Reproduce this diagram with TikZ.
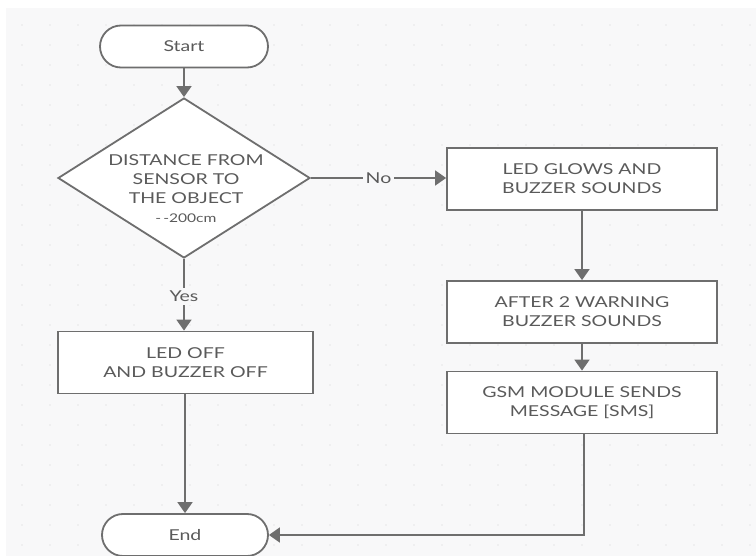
\documentclass[tikz,border=0pt]{standalone}
\usepackage{fontspec}
\setmainfont{Lato}[FakeStretch=1.3]
\usetikzlibrary{shapes.geometric,arrows.meta}
\definecolor{bg}{HTML}{F8F8F9}
\definecolor{griddot}{HTML}{E6E6E8}
\definecolor{edge}{HTML}{6E6E6E}
\definecolor{ink}{HTML}{5A5A5A}
\tikzset{
  base/.style={draw=edge, line width=1.8pt, fill=white, text=ink, font=\fontsize{15}{19}\selectfont, align=center, inner sep=0pt},
  terminal/.style={base, minimum width=168pt, minimum height=42pt, rounded corners=21pt},
  process/.style={base, minimum width=270pt, minimum height=62pt},
  decision/.style={base, shape=diamond, aspect=1.575, minimum width=252pt, minimum height=160pt},
  flow/.style={draw=edge, line width=1.8pt, -{Triangle[width=15pt,length=11pt]}},
  tag/.style={fill=bg, text=ink, font=\fontsize{15}{17}\selectfont, inner sep=3pt}
}
\begin{document}
\begin{tikzpicture}[x=1pt,y=-1pt]
  \useasboundingbox (0,0) rectangle (756,556);
  % canvas with dotted grid
  \fill[white] (0,0) rectangle (756,556);
  \fill[bg] (6,8) rectangle (756,556);
  \foreach \gx in {22,50,...,750} {
    \foreach \gy in {25,45,...,550} {
      \fill[griddot] (\gx,\gy) circle (0.9pt);
    }
  }

  % shapes
  \node[terminal] (start) at (184,46.5) {Start};
  \node[decision] (check) at (184,178) {};
  \node[text=ink, font=\fontsize{15}{19}\selectfont, align=center] (checktext) at (186,189)
    {DISTANCE FROM\\SENSOR TO\\THE OBJECT\\{\fontsize{12}{14}\selectfont -\,-200cm}};
  \node[process] (glow) at (582,179) {LED GLOWS AND\\BUZZER SOUNDS};
  \node[process] (warn) at (582,312) {AFTER 2 WARNING\\BUZZER SOUNDS};
  \node[process] (gsm) at (582,402.5) {GSM MODULE SENDS\\MESSAGE [SMS]};
  \node[process, minimum width=255pt] (off) at (185.5,362.5) {LED OFF\\AND BUZZER OFF};
  \node[terminal, minimum width=166pt] (end) at (185,535) {End};

  % connectors
  \draw[flow] (start) -- (check);
  \draw[flow] (check.east) -- node[tag] (nolabel) {No} (glow.west |- check.east);
  \draw[flow] (check.south) -- node[tag, pos=0.52] (yeslabel) {Yes} (off.north -| check.south);
  \draw[flow] (glow) -- (warn);
  \draw[flow] (warn) -- (gsm);
  \draw[flow] (off.south -| end.north) -- (end);
  \draw[flow] (gsm.south -| 584,0) |- (end.east);
\end{tikzpicture}
\end{document}
